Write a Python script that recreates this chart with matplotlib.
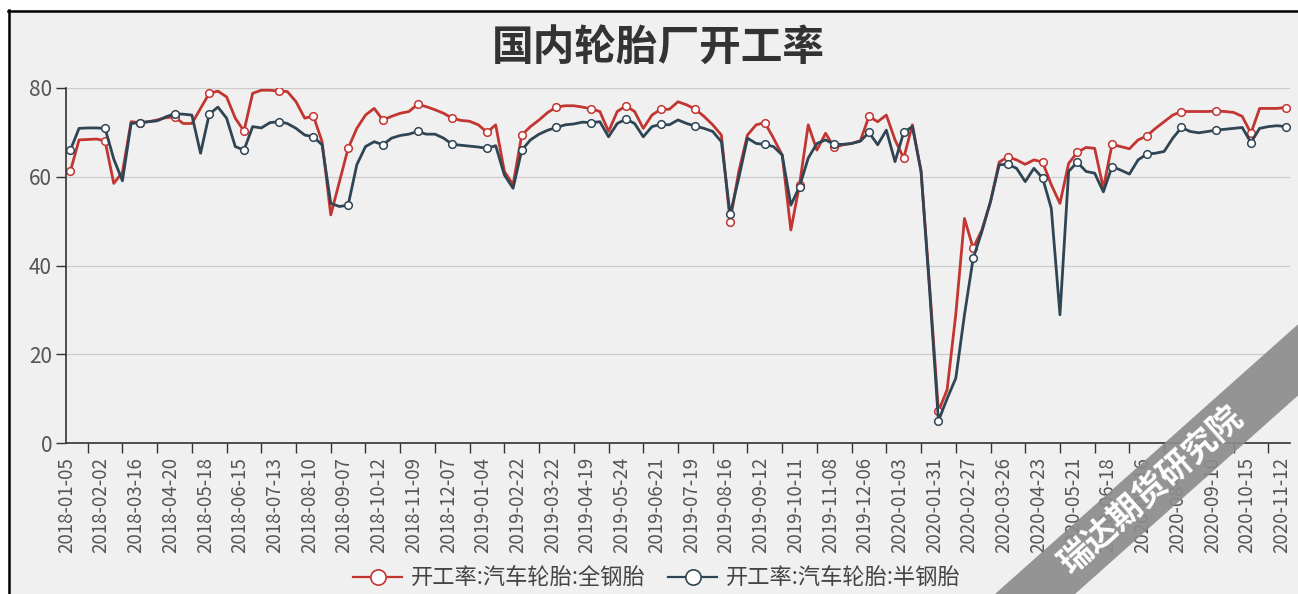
import matplotlib
matplotlib.use('Agg')
import matplotlib.pyplot as plt
from matplotlib.lines import Line2D
from matplotlib.patches import Polygon, Rectangle
from matplotlib.transforms import IdentityTransform, ScaledTranslation

plt.rcParams['font.family'] = ['Noto Sans CJK SC', 'DejaVu Sans']

title = '国内轮胎厂开工率'
series_names = ['开工率:汽车轮胎:全钢胎', '开工率:汽车轮胎:半钢胎']
series_colors = ['#c23531', '#2f4554']

# every 4th weekly date is labelled on the category axis
tick_dates = ['2018-01-05', '2018-02-02', '2018-03-16', '2018-04-20', '2018-05-18', '2018-06-15',
              '2018-07-13', '2018-08-10', '2018-09-07', '2018-10-12', '2018-11-09', '2018-12-07',
              '2019-01-04', '2019-02-22', '2019-03-22', '2019-04-19', '2019-05-24', '2019-06-21',
              '2019-07-19', '2019-08-16', '2019-09-12', '2019-10-11', '2019-11-08', '2019-12-06',
              '2020-01-03', '2020-01-31', '2020-02-27', '2020-03-26', '2020-04-23', '2020-05-21',
              '2020-06-18', '2020-07-16', '2020-08-13', '2020-09-10', '2020-10-15', '2020-11-12']

all_steel = [61.2, 68.3, 68.4, 68.5, 68.1, 58.5, 61.0, 72.4, 72.2, 72.4,
             72.8, 73.3, 73.5, 72.0, 72.0, 75.4, 78.8, 79.3, 78.0, 73.2,
             70.3, 78.8, 79.5, 79.5, 79.3, 79.2, 76.9, 73.2, 73.7, 67.9,
             51.4, 58.9, 66.4, 70.9, 73.9, 75.4, 72.8, 73.6, 74.3, 74.7,
             76.3, 75.8, 75.1, 74.3, 73.2, 72.7, 72.5, 71.7, 70.0, 71.7,
             61.2, 58.2, 69.4, 71.3, 72.8, 74.5, 75.7, 76.0, 76.0, 75.7,
             75.3, 74.7, 70.2, 74.7, 76.0, 74.7, 70.9, 73.9, 75.2, 75.2,
             76.9, 76.2, 75.2, 73.6, 71.7, 69.4, 49.9, 61.2, 69.4, 71.7,
             72.2, 68.7, 64.9, 48.0, 58.2, 71.7, 66.0, 69.8, 66.6, 67.2,
             67.5, 68.1, 73.6, 72.4, 73.9, 68.3, 64.2, 71.7, 61.2, 35.0,
             7.1, 12.0, 29.0, 50.6, 43.9, 48.0, 54.4, 63.3, 64.5, 63.8,
             62.8, 63.8, 63.3, 58.2, 54.0, 63.0, 65.5, 66.6, 66.4, 57.4,
             67.3, 66.8, 66.3, 68.3, 69.2, 70.9, 72.4, 73.9, 74.7, 74.7,
             74.7, 74.7, 74.8, 74.7, 74.5, 73.6, 69.8, 75.4, 75.4, 75.4,
             75.6]

semi_steel = [66.0, 70.9, 71.0, 71.0, 70.9, 64.0, 59.1, 72.0, 72.2, 72.4,
              72.6, 73.5, 74.2, 74.1, 73.9, 65.3, 74.1, 75.7, 73.2, 66.8,
              66.0, 71.3, 71.0, 72.2, 72.4, 72.0, 70.9, 69.4, 69.0, 67.2,
              54.0, 53.3, 53.6, 62.7, 66.8, 67.9, 67.2, 68.7, 69.3, 69.6,
              70.2, 69.6, 69.6, 68.7, 67.3, 67.1, 66.9, 66.7, 66.4, 67.0,
              60.4, 57.4, 66.0, 68.3, 69.6, 70.5, 71.1, 71.7, 71.9, 72.3,
              72.2, 72.4, 69.0, 72.0, 73.0, 72.0, 69.0, 71.3, 71.8, 71.7,
              72.8, 72.0, 71.4, 70.9, 70.2, 67.9, 51.5, 59.7, 68.7, 67.5,
              67.3, 66.8, 64.9, 53.6, 57.8, 64.2, 67.5, 68.3, 67.3, 67.3,
              67.5, 68.0, 70.0, 67.2, 70.5, 63.4, 70.0, 71.3, 61.2, 34.0,
              5.0, 10.0, 14.6, 28.9, 41.6, 47.6, 54.4, 62.7, 62.8, 61.9,
              58.9, 61.9, 59.7, 52.9, 28.9, 61.2, 63.3, 61.2, 60.8, 56.6,
              62.3, 61.5, 60.6, 63.8, 65.1, 65.3, 65.7, 68.7, 71.1, 70.2,
              69.9, 70.2, 70.5, 70.7, 70.9, 71.1, 67.7, 70.9, 71.3, 71.5,
              71.3]

W, H = 1298, 594
fig = plt.figure(figsize=(W / 100, H / 100), dpi=100, facecolor='#f0f0f0')

# white strip and black frame of the screenshot
fig.patches.append(Rectangle((0, (H - 10) / H), 1, 10 / H, transform=fig.transFigure,
                             facecolor='white', edgecolor='none'))
fig.patches.append(Rectangle((0, 0), 8 / W, 1, transform=fig.transFigure,
                             facecolor='white', edgecolor='none'))
fig.lines.append(Line2D([8 / W, 1], [(H - 11.3) / H] * 2, transform=fig.transFigure,
                        color='black', lw=1.8))
fig.lines.append(Line2D([9.3 / W] * 2, [0, (H - 10) / H], transform=fig.transFigure,
                        color='black', lw=1.8))

ax = fig.add_axes([66 / W, (H - 443) / H, 1224 / W, 355 / H])
ax.set_facecolor('none')

x = list(range(len(all_steel)))
for values, color in zip([all_steel, semi_steel], series_colors):
    ax.plot(x, values, color=color, lw=2.0, marker='o', markevery=4, ms=5.5,
            mfc='white', mec=color, mew=1.1)

ax.set_xlim(-0.5, len(all_steel) - 0.5)
ax.set_ylim(0, 80)
ax.set_yticks([0, 20, 40, 60, 80])
ax.set_xticks(range(0, len(all_steel), 4))
ax.set_xticklabels(tick_dates, rotation=90)
ax.set_xticks(range(2, len(all_steel) - 2, 4), minor=True)
ax.tick_params(axis='x', which='major', length=0, pad=10, labelsize=13.5, labelcolor='#555')
ax.tick_params(axis='x', which='minor', length=7, width=1, color='#333')
ax.tick_params(axis='y', length=7, width=1, pad=3, labelsize=15, labelcolor='#555', color='#333')
for lab in ax.get_xticklabels():
    lab.set_transform(lab.get_transform() + ScaledTranslation(-0.04, 0, fig.dpi_scale_trans))

ax.yaxis.grid(True, color='#cccccc', lw=0.9)
ax.set_axisbelow(True)
for side in ['top', 'right']:
    ax.spines[side].set_visible(False)
for side in ['left', 'bottom']:
    ax.spines[side].set_color('#333333')
    ax.spines[side].set_linewidth(1.2)

fig.text(658 / W, 1 - 49 / H, title, ha='center', va='center', fontsize=30,
         fontweight='bold', color='#333333')

handles = [Line2D([], [], color=c, lw=1.6, marker='o', ms=11, mfc='white', mec=c, mew=1.2)
           for c in series_colors]
fig.legend(handles, series_names, loc='center', bbox_to_anchor=(657 / W, 1 - 578 / H), ncol=2,
           frameon=False, fontsize=16, handlelength=2.2, handletextpad=0.4, columnspacing=1.0,
           labelcolor='#444444')

# watermark band
slope = 0.89
band = [(955, 594 + slope * 40), (1340, 594 - slope * 345),
        (1420, 594 - slope * 345), (1035, 594 + slope * 40)]
fig.patches.append(Polygon([(px, H - py) for px, py in band], closed=True,
                           transform=IdentityTransform(), facecolor='#8c8c8c',
                           edgecolor='none', alpha=0.92, zorder=5))
fig.text(1152 / W, 1 - 490 / H, '瑞达期货研究院', rotation=41.7, rotation_mode='anchor',
         ha='center', va='center', color='white', fontsize=24, fontweight='bold', zorder=6)

fig.savefig('out.png', dpi=100, facecolor=fig.get_facecolor())
